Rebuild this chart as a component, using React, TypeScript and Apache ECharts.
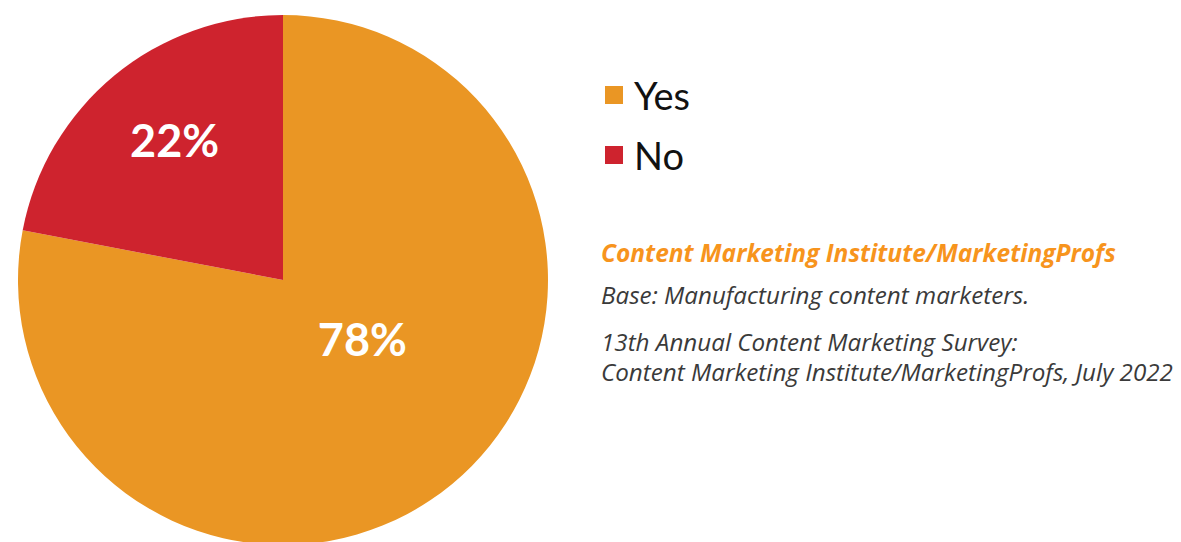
import React, { useEffect, useRef } from "react";
import * as echarts from "echarts";

const categories = ["Yes", "No"];
const values = [78, 22];
const colors = ["#EA9624", "#CE232E"];
const sourceTitle = "Content Marketing Institute/MarketingProfs";
const baseNote = "Base: Manufacturing content marketers.";
const sourceNote = "13th Annual Content Marketing Survey:\nContent Marketing Institute/MarketingProfs, July 2022";

export default function App() {
  const ref = useRef<HTMLDivElement>(null);
  useEffect(() => {
    if (!ref.current) return;
    const chart = echarts.init(ref.current, null, { renderer: "svg" });
    const labelOffsets = [[-7, -45], [-22, -36]];
    chart.setOption({
      animation: false,
      legend: {
        left: 600,
        top: 71,
        orient: "vertical",
        itemWidth: 18,
        itemHeight: 18,
        itemGap: 22,
        icon: "rect",
        textStyle: { fontSize: 38, color: "#111", fontFamily: "Lato", lineHeight: 38, padding: [0, 0, 0, 6] },
        data: categories,
      },
      graphic: [
        {
          type: "text",
          left: 601,
          top: 240,
          style: { text: sourceTitle, fontSize: 24.5, fontWeight: "bold", fontStyle: "italic", fill: "#F7941D", fontFamily: "Open Sans" },
        },
        {
          type: "text",
          left: 601,
          top: 282,
          style: { text: baseNote, fontSize: 24.2, fontStyle: "italic", fill: "#3a3a3a", fontFamily: "Open Sans" },
        },
        {
          type: "text",
          left: 601,
          top: 326,
          style: { text: sourceNote, fontSize: 24.2, lineHeight: 30, fontStyle: "italic", fill: "#3a3a3a", fontFamily: "Open Sans" },
        },
      ],
      series: [
        {
          type: "pie",
          center: [283, 280],
          radius: [0, 265],
          startAngle: 90,
          clockwise: true,
          silent: true,
          label: {
            position: "inside",
            formatter: "{c}%",
            color: "#fff",
            fontSize: 45,
            fontWeight: "bold",
            fontFamily: "Lato",
          },
          labelLine: { show: false },
          itemStyle: { borderWidth: 0 },
          data: categories.map((name, i) => ({
            name,
            value: values[i],
            itemStyle: { color: colors[i] },
            label: { offset: labelOffsets[i] },
          })),
        },
      ],
    });
    return () => chart.dispose();
  }, []);
  return (
    <div
      ref={ref}
      style={{ position: "absolute", left: 0, top: 0, width: 1181, height: 542, background: "#fff" }}
    />
  );
}
